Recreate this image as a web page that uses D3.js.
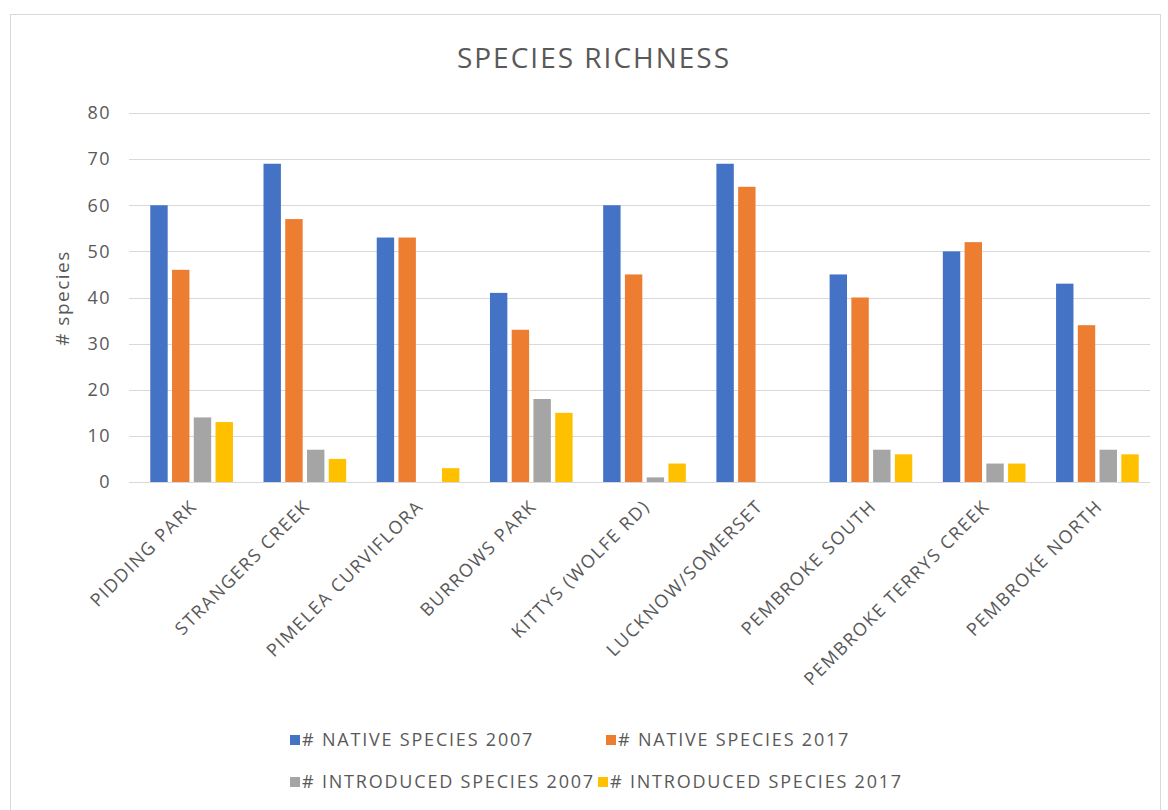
<!DOCTYPE html>
<html lang="en">
<head>
    <meta charset="UTF-8">
    <title>Species richness</title>
    <style>
        body { margin: 0; background: #fff; }
        text { font-family: "Open Sans", "Noto Sans", sans-serif; fill: #595959; }
    </style>
</head>
<body>
<script src="https://cdnjs.cloudflare.com/ajax/libs/d3/7.8.5/d3.min.js"></script>
<script>
    var sites = ['PIDDING PARK', 'STRANGERS CREEK', 'PIMELEA CURVIFLORA', 'BURROWS PARK',
        'KITTYS (WOLFE RD)', 'LUCKNOW/SOMERSET', 'PEMBROKE SOUTH', 'PEMBROKE TERRYS CREEK', 'PEMBROKE NORTH'];
    var native2007 = [60, 69, 53, 41, 60, 69, 45, 50, 43];
    var native2017 = [46, 57, 53, 33, 45, 64, 40, 52, 34];
    var intro2007 = [14, 7, 0, 18, 1, 0, 7, 4, 7];
    var intro2017 = [13, 5, 3, 15, 4, 0, 6, 4, 6];
    var seriesNames = ['# NATIVE SPECIES 2007', '# NATIVE SPECIES 2017',
        '# INTRODUCED SPECIES 2007', '# INTRODUCED SPECIES 2017'];
    var colors = ['#4472C4', '#ED7D31', '#A5A5A5', '#FFC000'];
    var yTicks = [0, 10, 20, 30, 40, 50, 60, 70, 80];

    var allSeries = [native2007, native2017, intro2007, intro2017];

    var W = 1168, H = 810;
    var svg = d3.select('body').append('svg')
        .attr('width', W)
        .attr('height', H);

    // outer chart frame
    svg.append('rect')
        .attr('x', 10.5).attr('y', 14.5)
        .attr('width', 1150).attr('height', 810)
        .attr('fill', '#fff')
        .attr('stroke', '#d9d9d9');

    var x0 = d3.scaleBand().domain(sites).range([135, 1154]).paddingInner(0.27).paddingOuter(0.135);
    var x1 = d3.scaleBand().domain(d3.range(4)).range([0, x0.bandwidth()]).paddingInner(0.2);
    var y = d3.scaleLinear().domain([0, 80]).range([482, 113]);

    // gridlines
    svg.append('g').selectAll('line')
        .data(yTicks)
        .enter().append('line')
        .attr('x1', 129).attr('x2', 1150)
        .attr('y1', function (d) { return Math.round(y(d)) + 0.5; })
        .attr('y2', function (d) { return Math.round(y(d)) + 0.5; })
        .attr('stroke', '#d9d9d9')
        .attr('stroke-width', 1.2);

    // y tick labels
    svg.append('g').selectAll('text')
        .data(yTicks)
        .enter().append('text')
        .attr('x', 111)
        .attr('y', function (d) { return y(d); })
        .attr('dy', '0.35em')
        .attr('text-anchor', 'end')
        .style('font-size', '18px')
        .style('letter-spacing', '1.5px')
        .text(function (d) { return d; });

    // bars
    var groups = svg.append('g').selectAll('g')
        .data(sites)
        .enter().append('g')
        .attr('transform', function (d) { return 'translate(' + x0(d) + ',0)'; });

    groups.selectAll('rect')
        .data(function (d, i) {
            return allSeries.map(function (s, j) { return {k: j, v: s[i]}; });
        })
        .enter().append('rect')
        .attr('x', function (d) { return x1(d.k); })
        .attr('width', x1.bandwidth())
        .attr('y', function (d) { return y(d.v); })
        .attr('height', function (d) { return y(0) - y(d.v); })
        .attr('fill', function (d) { return colors[d.k]; });

    // category labels
    svg.append('g').selectAll('text')
        .data(sites)
        .enter().append('text')
        .attr('transform', function (d) {
            return 'translate(' + (x0(d) + x0.bandwidth() / 2 + 2) + ',503) rotate(-45)';
        })
        .attr('text-anchor', 'end')
        .attr('dy', '0.35em')
        .style('font-size', '18px')
        .style('letter-spacing', '1.6px')
        .text(function (d) { return d; });

    // title
    svg.append('text')
        .attr('x', 594).attr('y', 68)
        .attr('text-anchor', 'middle')
        .style('font-size', '28px')
        .style('letter-spacing', '2px')
        .text('SPECIES RICHNESS');

    // y axis title
    svg.append('text')
        .attr('transform', 'translate(69,298) rotate(-90)')
        .attr('text-anchor', 'middle')
        .style('font-size', '19px')
        .style('letter-spacing', '1.5px')
        .text('# species');

    // legend
    var legendPos = [[290, 740], [606, 740], [290, 782], [598, 782]];
    var legend = svg.append('g').selectAll('g')
        .data(seriesNames)
        .enter().append('g')
        .attr('transform', function (d, i) { return 'translate(' + legendPos[i][0] + ',' + legendPos[i][1] + ')'; });
    legend.append('rect')
        .attr('x', 0).attr('y', -5)
        .attr('width', 10).attr('height', 10)
        .attr('fill', function (d, i) { return colors[i]; });
    legend.append('text')
        .attr('x', 12)
        .attr('dy', '0.35em')
        .style('font-size', '18px')
        .style('letter-spacing', '1.8px')
        .text(function (d) { return d; });
</script>
</body>
</html>
